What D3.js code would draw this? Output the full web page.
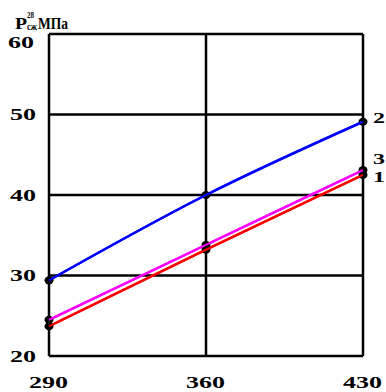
<!DOCTYPE html>
<html lang="ru">
<head>
<meta charset="utf-8">
<title>Rсж</title>
<style>
  body { margin: 0; background: #fff; }
  text { font-family: "Liberation Serif", "Times New Roman", serif; font-weight: bold; }
</style>
</head>
<body>
<script src="https://cdnjs.cloudflare.com/ajax/libs/d3/7.8.5/d3.min.js"></script>
<script>
// data
var xTicks = [290, 360, 430];
var yTicks = [20, 30, 40, 50, 60];
var series1 = [23.7, 33.2, 42.5]; // red
var series2 = [29.4, 40.0, 49.1]; // blue
var series3 = [24.5, 33.8, 43.1]; // magenta
var seriesNames = ["1", "2", "3"];

var w = 386, h = 392;
var svg = d3.select("body").append("svg")
  .attr("width", w)
  .attr("height", h);

var x = d3.scaleLinear().domain([290, 430]).range([49, 363]);
var y = d3.scaleLinear().domain([20, 60]).range([356, 34]);

// the original font is wide, stretch digits to ~13px each
function wide(sel) {
  sel.attr("textLength", function(d) { return String(d).length * 13; })
    .attr("lengthAdjust", "spacingAndGlyphs");
}

// grid
svg.selectAll(".hg").data(yTicks).enter().append("line")
  .attr("x1", x(290)).attr("x2", x(430))
  .attr("y1", function(d) { return y(d); })
  .attr("y2", function(d) { return y(d); })
  .attr("stroke", "#000").attr("stroke-width", 2.5);
svg.selectAll(".vg").data(xTicks).enter().append("line")
  .attr("y1", y(20)).attr("y2", y(60))
  .attr("x1", function(d) { return x(d); })
  .attr("x2", function(d) { return x(d); })
  .attr("stroke", "#000").attr("stroke-width", 2.5);

// tick labels
svg.selectAll(".yl").data(yTicks).enter().append("text")
  .attr("x", function(d) { return d == 60 ? 8 : 10; })
  .attr("y", function(d) { return d == 60 ? y(d) + 8 : y(d); })
  .attr("dy", "0.35em")
  .attr("font-size", 16)
  .text(function(d) { return d; })
  .call(wide);
svg.selectAll(".xl").data(xTicks).enter().append("text")
  .attr("x", function(d) { return x(d) - 20; })
  .attr("y", 382)
  .attr("dy", "0.35em")
  .attr("font-size", 16)
  .text(function(d) { return d; })
  .call(wide);

// axis title
svg.append("text").attr("x", 15).attr("y", 29).attr("font-size", 16)
  .attr("textLength", 12).attr("lengthAdjust", "spacingAndGlyphs").text("Р");
svg.append("text").attr("x", 27).attr("y", 18).attr("font-size", 8)
  .attr("textLength", 7).attr("lengthAdjust", "spacingAndGlyphs").text("28");
svg.append("text").attr("x", 27).attr("y", 30).attr("font-size", 10)
  .attr("textLength", 10).attr("lengthAdjust", "spacingAndGlyphs").text("сж");
svg.append("text").attr("x", 38).attr("y", 29).attr("font-size", 16)
  .attr("textLength", 30).attr("lengthAdjust", "spacingAndGlyphs").text("МПа");

var line = d3.line()
  .x(function(d, i) { return x(xTicks[i]); })
  .y(function(d) { return y(d); })
  .curve(d3.curveMonotoneX);

var all = [
  { vals: series1, color: "#ff0000", name: seriesNames[0], ly: 177 },
  { vals: series3, color: "#ff00ff", name: seriesNames[2], ly: 159 },
  { vals: series2, color: "#0000ff", name: seriesNames[1], ly: 118 }
];

all.forEach(function(s) {
  svg.append("path").datum(s.vals)
    .attr("d", line)
    .attr("fill", "none")
    .attr("stroke", s.color)
    .attr("stroke-width", 2.5);
});
all.forEach(function(s) {
  svg.selectAll(null).data(s.vals).enter().append("ellipse")
    .attr("cx", function(d, i) { return x(xTicks[i]); })
    .attr("cy", function(d) { return y(d); })
    .attr("rx", 4.5).attr("ry", 4)
    .attr("fill", "#000");
  svg.append("text")
    .attr("x", 373).attr("y", s.ly)
    .attr("dy", "0.35em")
    .attr("font-size", 15)
    .attr("textLength", 12).attr("lengthAdjust", "spacingAndGlyphs")
    .text(s.name);
});
// redraw lines over markers so colour shows through like the original
all.forEach(function(s) {
  svg.append("path").datum(s.vals)
    .attr("d", line)
    .attr("fill", "none")
    .attr("stroke", s.color)
    .attr("stroke-width", 2);
});
</script>
</body>
</html>
